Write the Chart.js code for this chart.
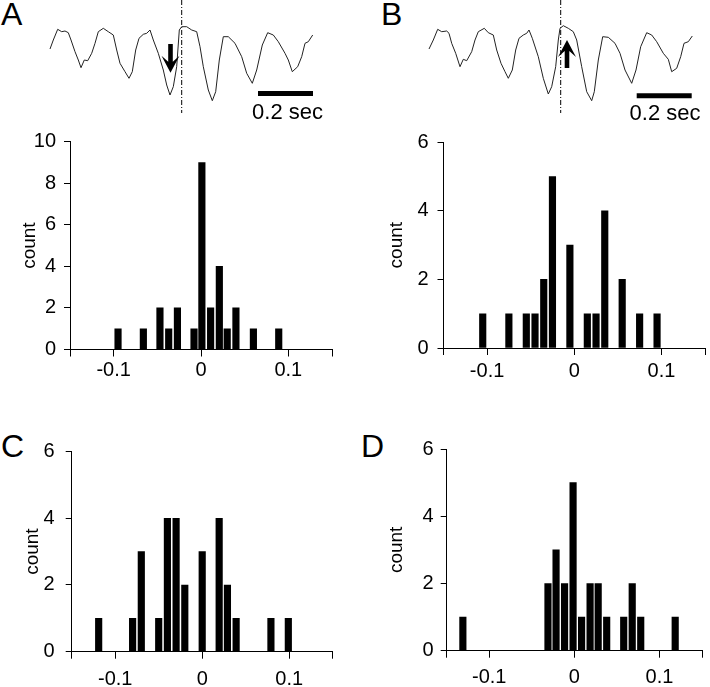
<!DOCTYPE html>
<html>
<head>
<meta charset="utf-8">
<script src="https://cdn.jsdelivr.net/npm/chart.js@4.4.0/dist/chart.umd.min.js"></script>
<style>
body{margin:0;background:#fff;width:710px;height:687px;position:relative;overflow:hidden;font-family:"Liberation Sans",Arial,sans-serif}
.box{position:absolute}
.lab{position:absolute;font-size:32px;line-height:32px;color:#000}
</style>
</head>
<body>
<div class="lab" style="left:1px;top:-2px">A</div>
<div class="lab" style="left:381px;top:-2px">B</div>
<div class="lab" style="left:1px;top:430px">C</div>
<div class="lab" style="left:361px;top:430px">D</div>

<div class="box" style="left:0;top:0"><canvas id="trA" width="355" height="125"></canvas></div>
<div class="box" style="left:355px;top:0"><canvas id="trB" width="355" height="125"></canvas></div>
<div class="box" style="left:0;top:120px"><canvas id="hA" width="355" height="270"></canvas></div>
<div class="box" style="left:355px;top:120px"><canvas id="hB" width="355" height="270"></canvas></div>
<div class="box" style="left:0;top:420px"><canvas id="hC" width="355" height="267"></canvas></div>
<div class="box" style="left:355px;top:420px"><canvas id="hD" width="355" height="267"></canvas></div>

<script>
// traces (samples, arbitrary amplitude) - scale bar 55 samples = 0.2 sec
const traceAt = [0,3.3,7.7,11.7,15,18.3,21,25,28.3,31,34.3,37.7,41.7,45,48.3,53.3,58.3,63.3,66.7,70,75,79,82.3,85.7,89,93.3,96.7,100,103.3,108.3,113.3,116.7,120,123.3,126.7,129.3,131.7,136.7,141.7,146.7,150,153.3,158.3,162.3,165.7,169.3,173.3,178.3,185,191.7,196.7,202.3,206.7,212.3,217.7,223.3,228.3,235,238.3,242.3,247.7,251.7,255,258.3,262.7];
const traceAv = [51,60,70.7,68.3,69,67.3,60,48.3,40,32.3,40,39.3,46.7,56.7,68.3,71.7,68.3,65,50,36.7,28.3,21.7,28.3,50,61.7,65.7,66.7,70,60,46.7,30,15,5,13.3,33.3,70,73.3,73.3,70,68.3,53.3,33.3,10,-0.7,8.3,40,63.3,63.3,56.7,43.3,26.7,16.7,30,55,67.3,65,58.3,46.7,40,28.3,33.3,43.3,56.7,58.3,65];
const traceBt = [0,4.3,8.7,12.7,17.7,20,22.7,26.7,31,34.3,37.7,42.7,46,49.3,55.3,59.3,64.3,67.7,72,76,79.3,83.3,86.7,90,94.3,97.7,100,103.3,109.3,114.3,119.3,122.7,126.7,129.3,131,134.3,139.3,144.3,147.7,152.7,157.7,162.7,165.3,169.3,173.7,179.3,186,191,196,202.7,207,211.7,217.7,222.7,227.7,234.3,239.3,242.7,247.7,251.7,255,259.3,263.3];
const traceBv = [51,60,70.7,68.3,69,66.7,56.7,46.7,33.3,40.7,39.3,48.3,60,68.3,71.7,67.3,65,50,36.7,28.3,21.7,30,50,61.7,65,66.7,70,61.7,43.3,21.7,6,13.3,33.3,60,71.7,74.3,71.7,68.3,60,33.3,8.3,-0.7,8.3,40,63.3,62.7,56.7,46.7,30,16.7,30,53.3,67.3,65,58.3,46.7,40.7,28.3,31.7,43.3,56.7,58.3,64];

// histograms: bin centres (s) and counts
const binsA = [-0.095,-0.066,-0.047,-0.037,-0.027,-0.008,0.001,0.011,0.021,0.030,0.040,0.060,0.089];
const countsA = [1,1,2,1,2,1,9,2,4,1,2,1,1];
const binsB = [-0.105,-0.075,-0.055,-0.045,-0.035,-0.025,-0.005,0.015,0.025,0.035,0.055,0.075,0.095];
const countsB = [1,1,1,1,2,5,3,1,1,4,2,1,1];
const binsC = [-0.119,-0.080,-0.070,-0.050,-0.040,-0.030,-0.020,0.000,0.0195,0.029,0.039,0.079,0.099];
const countsC = [1,1,3,1,4,4,2,3,4,2,1,1,1];
const binsD = [-0.131,-0.031,-0.0215,-0.0115,-0.0015,0.0085,0.0185,0.028,0.038,0.058,0.068,0.078,0.1185];
const countsD = [1,2,3,2,5,1,2,2,1,1,2,1,1];

const xTicks = [-0.15,-0.1,0,0.1,0.15];
const xTickLabels = ['','-0.1','0','0.1',''];

Chart.defaults.font.family = '"Liberation Sans", Arial, sans-serif';
Chart.defaults.color = '#000';

// arrow + "0.2 sec" text on the traces
const tracePlugin = {
  id: 'marks',
  afterDatasetsDraw(chart, args, o) {
    const ctx = chart.ctx, sx = chart.scales.x, sy = chart.scales.y;
    const px = sx.getPixelForValue(o.arrowT);
    const y0 = sy.getPixelForValue(o.arrowFrom), y1 = sy.getPixelForValue(o.arrowTo);
    const d = Math.sign(y1 - y0);
    ctx.save();
    ctx.fillStyle = '#000';
    ctx.beginPath();
    ctx.moveTo(px, y1);
    ctx.lineTo(px - 9, y1 - d * 17);
    ctx.lineTo(px - 2.3, y1 - d * 11);
    ctx.lineTo(px - 2.3, y0);
    ctx.lineTo(px + 2.3, y0);
    ctx.lineTo(px + 2.3, y1 - d * 11);
    ctx.lineTo(px + 9, y1 - d * 17);
    ctx.closePath();
    ctx.fill();
    ctx.font = '22px "Liberation Sans", Arial, sans-serif';
    ctx.textAlign = 'center';
    ctx.textBaseline = 'middle';
    ctx.fillText('0.2 sec', sx.getPixelForValue(o.textT), sy.getPixelForValue(o.textV));
    ctx.restore();
  }
};

function trace(id, t, v, xmin, xmax, bar, dashT, marks) {
  new Chart(document.getElementById(id), {
    type: 'line',
    data: {
      datasets: [
        {data: t.map((x, i) => ({x: x, y: v[i]})), borderColor: '#222', borderWidth: 1, pointRadius: 0},
        {data: [{x: bar[0], y: bar[2]}, {x: bar[1], y: bar[2]}], borderColor: '#000', borderWidth: 5, pointRadius: 0, borderCapStyle: 'butt'},
        {data: [{x: dashT, y: 100}, {x: dashT, y: -13}], borderColor: '#000', borderWidth: 1, borderDash: [5,2,1,2], pointRadius: 0}
      ]
    },
    options: {
      responsive: false, animation: false,
      layout: {padding: 0},
      plugins: {legend: {display: false}, tooltip: {enabled: false}, marks: marks},
      scales: {
        x: {type: 'linear', min: xmin, max: xmax, display: false},
        y: {min: -25, max: 100, display: false}
      }
    },
    plugins: [tracePlugin]
  });
}

trace('trA', traceAt, traceAv, -50, 305, [208, 263, 6.5], 131.7,
  {arrowT: 120.5, arrowFrom: 56, arrowTo: 27.3, textT: 237.5, textV: -12.5});
trace('trB', traceBt, traceBv, -74, 281, [207.7, 262.7, 4.2], 131.7,
  {arrowT: 138, arrowFrom: 32, arrowTo: 60, textT: 236, textV: -14});

// box = canvas rect, area = plot area (page px)
function hist(id, bins, counts, yMax, box, area, o) {
  new Chart(document.getElementById(id), {
    type: 'bar',
    data: {
      datasets: [{
        data: bins.map((b, i) => ({x: b, y: counts[i]})),
        backgroundColor: '#000', borderWidth: 0, barThickness: 6.5
      }]
    },
    options: {
      responsive: false, animation: false,
      layout: {padding: {left: 0, top: area.t - box.t, right: box.l + box.w - area.r, bottom: 0}},
      plugins: {legend: {display: false}, tooltip: {enabled: false}},
      scales: {
        x: {
          type: 'linear', min: -0.15, max: 0.15, offset: false,
          grid: {drawOnChartArea: false, tickLength: 7, color: '#000', offset: false},
          border: {display: true, color: '#000', width: 1},
          afterBuildTicks: s => { s.ticks = xTicks.map(v => ({value: v})); },
          ticks: {autoSkip: false, maxRotation: 0, padding: o.xpad, font: {size: 20},
                  callback: v => xTickLabels[xTicks.indexOf(v)] || ''},
          afterFit: s => { s.height = box.t + box.h - area.b; }
        },
        y: {
          min: 0, max: yMax,
          grid: {drawOnChartArea: false, tickLength: 6, color: '#000'},
          border: {display: true, color: '#000', width: 1},
          ticks: {stepSize: 2, padding: o.ypad, font: {size: 20}},
          title: {display: true, text: 'count', font: {size: 19}, padding: {top: o.tpad, bottom: 0}},
          afterFit: s => { s.width = area.l - box.l; }
        }
      }
    }
  });
}

hist('hA', binsA, countsA, 10, {l: 0, t: 120, w: 355, h: 270}, {l: 70, r: 332, t: 141.7, b: 349.5}, {xpad: 2, ypad: 8, tpad: 18.6});
hist('hB', binsB, countsB, 6, {l: 355, t: 120, w: 355, h: 270}, {l: 443.5, r: 705, t: 142.3, b: 348}, {xpad: 4, ypad: 9, tpad: 30.6});
hist('hC', binsC, countsC, 6, {l: 0, t: 420, w: 355, h: 267}, {l: 71.7, r: 332.7, t: 451.5, b: 651.7}, {xpad: 9, ypad: 11, tpad: 21.6});
hist('hD', binsD, countsD, 6, {l: 355, t: 420, w: 355, h: 267}, {l: 446.7, r: 708.7, t: 449, b: 650.7}, {xpad: 8, ypad: 7, tpad: 30.6});
</script>
</body>
</html>
